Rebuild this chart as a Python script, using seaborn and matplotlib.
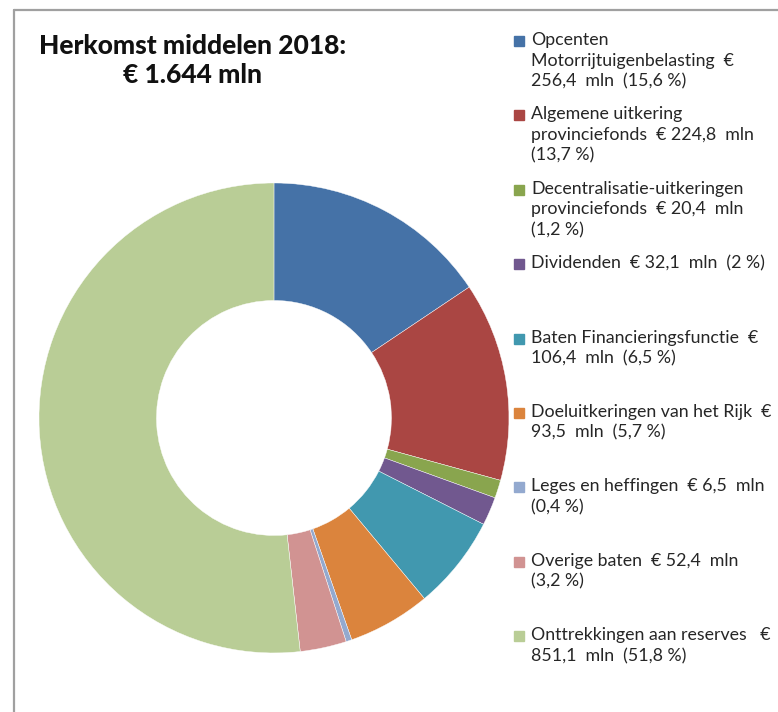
import matplotlib
matplotlib.use("Agg")
import matplotlib.pyplot as plt
import seaborn as sns
from matplotlib.lines import Line2D
from matplotlib.patches import Rectangle

# Data: herkomst middelen 2018 (x EUR 1 mln)
values = [256.4, 224.8, 20.4, 32.1, 106.4, 93.5, 6.5, 52.4, 851.1]
labels = [
    "Opcenten\nMotorrijtuigenbelasting  €\n256,4  mln  (15,6 %)",
    "Algemene uitkering\nprovinciefonds  € 224,8  mln\n(13,7 %)",
    "Decentralisatie-uitkeringen\nprovinciefonds  € 20,4  mln\n(1,2 %)",
    "Dividenden  € 32,1  mln  (2 %)",
    "Baten Financieringsfunctie  €\n106,4  mln  (6,5 %)",
    "Doeluitkeringen van het Rijk  €\n93,5  mln  (5,7 %)",
    "Leges en heffingen  € 6,5  mln\n(0,4 %)",
    "Overige baten  € 52,4  mln\n(3,2 %)",
    "Onttrekkingen aan reserves   €\n851,1  mln  (51,8 %)",
]
colors = ["#4572A7", "#AA4643", "#89A54E", "#71588F", "#4198AF",
          "#DB843D", "#93A9CF", "#D19392", "#B9CD96"]
title_lines = ["Herkomst middelen 2018:", "€ 1.644 mln"]

sns.set_theme(style="white")
plt.rcParams["font.family"] = ["Lato", "DejaVu Sans"]

fig = plt.figure(figsize=(7.78, 7.12), dpi=100)
ax = fig.add_axes([0.0501, 0.0829, 0.6041, 0.6601])

ax.pie(values, colors=colors, startangle=90, counterclock=False,
       radius=1.0, wedgeprops=dict(width=0.5, edgecolor="white", linewidth=0.3))
ax.set_xlim(-1, 1)
ax.set_ylim(-1, 1)
ax.set_aspect("equal")

# title
fig.text(0.247, 0.935, title_lines[0], ha="center", va="center",
         fontsize=19, fontweight="black", color="#111111")
fig.text(0.247, 0.894, title_lines[1], ha="center", va="center",
         fontsize=19, fontweight="black", color="#111111")

# legend drawn by hand to keep the spacing of the original
first_y = 41
step = 74.4
for i, (lab, col) in enumerate(zip(labels, colors)):
    y = first_y + i * step
    fig.add_artist(Rectangle((514 / 778, 1 - (y + 5) / 712), 10 / 778, 10 / 712,
                             transform=fig.transFigure, color=col))
    fig.text(531 / 778, 1 - (y - 9) / 712, lab, ha="left", va="top",
             fontsize=12.8, color="#262626", linespacing=1.36)

# outer frame (left and top edge)
fig.add_artist(Line2D([14 / 778, 14 / 778], [0, 1 - 10 / 712],
                      transform=fig.transFigure, color="#a0a0a0", lw=1.6))
fig.add_artist(Line2D([14 / 778, 1], [1 - 10 / 712, 1 - 10 / 712],
                      transform=fig.transFigure, color="#a0a0a0", lw=1.6))

fig.savefig("out.png", dpi=100, facecolor="white")
